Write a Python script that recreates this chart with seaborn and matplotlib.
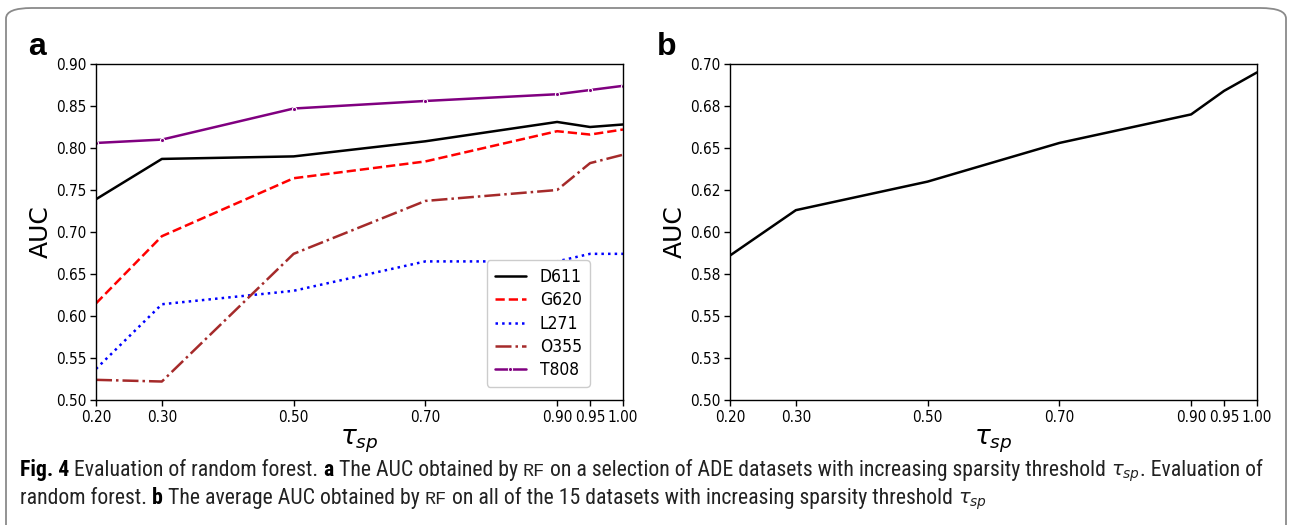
import numpy as np
import pandas as pd
import matplotlib
matplotlib.use("Agg")
import matplotlib.pyplot as plt
import seaborn as sns
from matplotlib.patches import FancyBboxPatch
from matplotlib import font_manager

# ---------------- data ----------------
tau = [0.20, 0.30, 0.50, 0.70, 0.90, 0.95, 1.00]
tau_labels = ["0.20", "0.30", "0.50", "0.70", "0.90", "0.95", "1.00"]

d611 = [0.739, 0.787, 0.790, 0.808, 0.831, 0.825, 0.828]
g620 = [0.615, 0.695, 0.764, 0.784, 0.820, 0.816, 0.822]
l271 = [0.537, 0.614, 0.630, 0.665, 0.665, 0.674, 0.674]
o355 = [0.524, 0.522, 0.674, 0.737, 0.750, 0.782, 0.792]
t808 = [0.806, 0.810, 0.847, 0.856, 0.864, 0.869, 0.874]
avg15 = [0.586, 0.613, 0.630, 0.653, 0.670, 0.684, 0.695]

dataset_names = ["D611", "G620", "L271", "O355", "T808"]

a_yticks = [0.50, 0.55, 0.60, 0.65, 0.70, 0.75, 0.80, 0.85, 0.90]
a_ylabels = ["0.50", "0.55", "0.60", "0.65", "0.70", "0.75", "0.80", "0.85", "0.90"]
b_yticks = [0.500, 0.525, 0.550, 0.575, 0.600, 0.625, 0.650, 0.675, 0.700]
b_ylabels = ["0.50", "0.53", "0.55", "0.58", "0.60", "0.62", "0.65", "0.68", "0.70"]

# ---------------- fonts ----------------
fl = font_manager.fontManager.ttflist
names = {f.name for f in fl}

def find_condensed():
    for fam in ["Liberation Sans Narrow", "Roboto Condensed", "Open Sans Condensed",
                "Noto Sans Condensed", "DejaVu Sans Condensed"]:
        if fam in names:
            return dict(family=fam)
    for fam in ["Noto Sans", "Open Sans", "Roboto", "DejaVu Sans", "Liberation Sans"]:
        for f in fl:
            if f.name == fam and f.stretch in ("condensed", "semi-condensed", 500, "extra-condensed"):
                return dict(family=fam, fontstretch=f.stretch)
    return None

cond = find_condensed()
dejavu_cond = any(f.name == "DejaVu Sans" and f.stretch == "condensed" for f in fl)
tick_font = dict(family="DejaVu Sans", fontstretch="condensed") if dejavu_cond else dict(family="DejaVu Sans")
tick_size = 11 if dejavu_cond else 10

# ---------------- style ----------------
sns.set_style("ticks", {"axes.edgecolor": "black", "xtick.color": "black",
                        "ytick.color": "black", "text.color": "black",
                        "axes.labelcolor": "black"})
plt.rcParams["font.family"] = ["DejaVu Sans"]
plt.rcParams["mathtext.fontset"] = "dejavusans"

W, H = 1289, 525
fig = plt.figure(figsize=(W / 100, H / 100), dpi=100)

def px_axes(l, t, r, b):
    return fig.add_axes([l / W, 1 - b / H, (r - l) / W, (b - t) / H])

axA = px_axes(96, 64, 623, 400)
axB = px_axes(730, 64, 1257, 400)

df = pd.DataFrame({"tau": tau * 5,
                   "AUC": d611 + g620 + l271 + o355 + t808,
                   "dataset": np.repeat(dataset_names, len(tau))})

styles = {
    "D611": dict(color="black", linestyle="-"),
    "G620": dict(color="red", linestyle="--"),
    "L271": dict(color="blue", linestyle=":"),
    "O355": dict(color="brown", linestyle="-."),
    "T808": dict(color="purple", linestyle="-", marker=".", markersize=6),
}
for name in dataset_names:
    sub = df[df["dataset"] == name]
    sns.lineplot(data=sub, x="tau", y="AUC", ax=axA, label=name,
                 linewidth=1.8, **styles[name])

sns.lineplot(x=tau, y=avg15, ax=axB, color="black", linewidth=1.8)

for ax, yt, yl in [(axA, a_yticks, a_ylabels), (axB, b_yticks, b_ylabels)]:
    ax.set_xlim(tau[0], tau[-1])
    ax.set_ylim(yt[0], yt[-1])
    ax.set_xticks(tau)
    ax.set_xticklabels(tau_labels, fontsize=tick_size, **tick_font)
    ax.set_yticks(yt)
    ax.set_yticklabels(yl, fontsize=tick_size, **tick_font)
    ax.set_xlabel(r"$\tau_{sp}$", fontsize=19, labelpad=2)
    ax.set_ylabel("AUC", fontsize=18, labelpad=2)
    for s in ax.spines.values():
        s.set_linewidth(1.0)
        s.set_color("black")
    ax.tick_params(length=4, width=1.0, pad=3)

leg_prop = dict(size=11.5)
if dejavu_cond:
    leg_prop = dict(size=12.5, family="DejaVu Sans", stretch="condensed")
axA.legend(loc="lower right", bbox_to_anchor=(0.937, 0.039), prop=leg_prop,
           frameon=True, fancybox=True, edgecolor="#cccccc", framealpha=1,
           handlelength=1.8, handletextpad=0.8, borderpad=0.45,
           labelspacing=0.3, borderaxespad=0)

# panel letters
fig.text(28 / W, 1 - 55 / H, "a", fontsize=23, fontweight="bold",
         family=["Liberation Sans", "DejaVu Sans"], va="baseline")
fig.text(657 / W, 1 - 55 / H, "b", fontsize=23, fontweight="bold",
         family=["Liberation Sans", "DejaVu Sans"], va="baseline")

# border
box = FancyBboxPatch((6 / W, -0.2), (1280 / W), 1 - 8 / H + 0.2,
                     boxstyle="round,pad=0,rounding_size=0.02",
                     transform=fig.transFigure, facecolor="none",
                     edgecolor="#8a8a8a", linewidth=1.3, clip_on=False)
fig.patches.append(box)

# ---------------- caption ----------------
if cond is not None:
    cap_font = cond
else:
    cap_font = dict(family="Liberation Sans")
mono_family = "Liberation Mono"

renderer = fig.canvas.get_renderer()

SP = ("__SP__", None)
line1 = [("Fig. 4", "b"), SP, ("Evaluation of random forest.", "r"), SP, ("a", "b"), SP,
         ("The AUC obtained by", "r"), SP, ("RF", "m"), SP,
         ("on a selection of ADE datasets with increasing sparsity threshold", "r"), SP,
         (r"$\tau_{sp}$", "t"), (". Evaluation of", "r")]
line2 = [("random forest.", "r"), SP, ("b", "b"), SP, ("The average AUC obtained by", "r"), SP,
         ("RF", "m"), SP, ("on all of the 15 datasets with increasing sparsity threshold", "r"), SP,
         (r"$\tau_{sp}$", "t")]

def props(kind, size):
    if kind == "b":
        return dict(fontweight="bold", fontsize=size, color="black", **cap_font)
    if kind == "m":
        return dict(family=mono_family, fontsize=size * 0.85, color="#222222")
    if kind == "t":
        return dict(fontsize=size * 0.9, color="#222222")
    return dict(fontsize=size, color="#222222", **cap_font)

def width_of(txt, kw):
    t = fig.text(0, 0, txt, **kw)
    w = t.get_window_extent(renderer).width
    t.remove()
    return w

def draw_line(runs, x0, ybase, size, draw=True):
    x = x0
    sp = width_of("a a", props("r", size)) - width_of("aa", props("r", size))
    for txt, kind in runs:
        if kind is None:
            x += sp
            continue
        kw = props(kind, size)
        t = fig.text(x / W, 1 - ybase / H, txt, va="baseline", ha="left", **kw)
        w = t.get_window_extent(renderer).width
        if not draw:
            t.remove()
        x += w
    return x

size = 12.0
end = draw_line(line1, 20, 476, size, draw=False)
size = size * (1262 - 20) / (end - 20)
draw_line(line1, 20, 476, size)
draw_line(line2, 20, 504, size)

fig.savefig("out.png", dpi=100)
